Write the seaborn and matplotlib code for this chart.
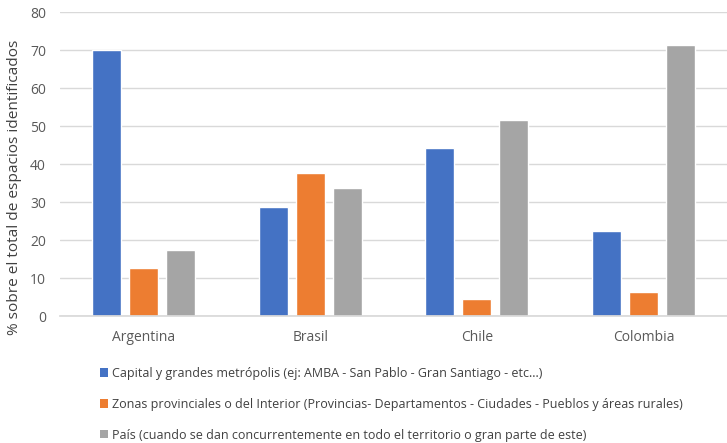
import matplotlib
matplotlib.use("Agg")
import matplotlib.pyplot as plt
import seaborn as sns
import pandas as pd
from matplotlib.patches import Patch

countries = ["Argentina", "Brasil", "Chile", "Colombia"]
series_names = [
    "Capital y grandes metrópolis (ej: AMBA - San Pablo - Gran Santiago - etc...)",
    "Zonas provinciales o del Interior (Provincias- Departamentos - Ciudades - Pueblos y áreas rurales)",
    "País (cuando se dan concurrentemente en todo el territorio o gran parte de este)",
]
capital = [70.0, 28.6, 44.1, 22.5]
provincias = [12.6, 37.6, 4.5, 6.2]
pais = [17.4, 33.8, 51.6, 71.3]
colors = ["#4472C4", "#ED7D31", "#A5A5A5"]

rows = []
for name, vals in zip(series_names, [capital, provincias, pais]):
    for c, v in zip(countries, vals):
        rows.append({"pais": c, "serie": name, "valor": v})
df = pd.DataFrame(rows)

sns.set_theme(style="white")
plt.rcParams["font.family"] = ["Open Sans", "DejaVu Sans"]

fig = plt.figure(figsize=(7.27, 4.43), dpi=100)
ax = fig.add_axes([60 / 727, 1 - 316 / 443, 667 / 727, 304 / 443])

sns.barplot(data=df, x="pais", y="valor", hue="serie", hue_order=series_names,
            palette=colors, width=0.665, gap=0.216, saturation=1,
            legend=False, ax=ax)

ax.set_ylim(0, 80)
ax.set_yticks(range(0, 81, 10))
ax.set_xlim(-0.5, 3.5)
ax.grid(axis="y", color="#D9D9D9", linewidth=1)
ax.set_axisbelow(True)
for s in ["top", "right", "left"]:
    ax.spines[s].set_visible(False)
ax.spines["bottom"].set_color("#D9D9D9")
ax.tick_params(axis="both", length=0, labelsize=10, labelcolor="#595959")
ax.tick_params(axis="x", pad=10)
ax.tick_params(axis="y", pad=10)
ax.set_xlabel("")
ax.set_ylabel("% sobre el total de espacios identificados", fontsize=11.1,
              color="#404040")
ax.yaxis.set_label_coords(-38 / 667, (316 - 187) / 304)

handles = [Patch(facecolor=c, edgecolor="none") for c in colors]
fig.legend(handles, series_names, loc="upper left",
           bbox_to_anchor=(100 / 727, 1 - 367 / 443), frameon=False,
           fontsize=9.0, labelcolor="#404040", handlelength=0.65,
           handleheight=0.65, handletextpad=0.3, labelspacing=1.42,
           borderaxespad=0, borderpad=0)

fig.savefig("out.png", dpi=100)
